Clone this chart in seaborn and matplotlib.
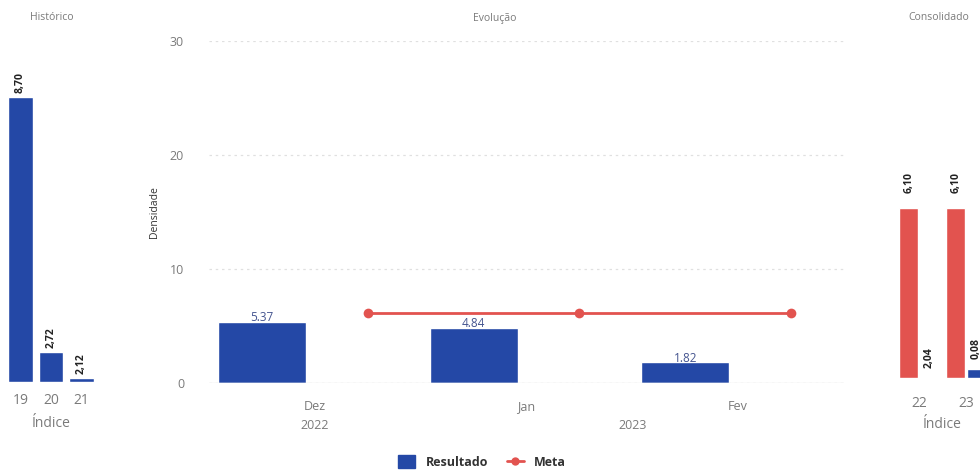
import matplotlib
matplotlib.use("Agg")
import matplotlib.pyplot as plt
import matplotlib.transforms as mtransforms
from matplotlib.lines import Line2D
from matplotlib.patches import Patch
import numpy as np
import pandas as pd
import seaborn as sns

# --- dados ---
# Histórico (altura desenhada e rótulo exibido no painel)
indices_hist = ["19", "20", "21"]
altura_hist = [25.0, 2.63, 0.35]
rotulos_hist = ["8,70", "2,72", "2,12"]

# Evolução
meses = ["Dez", "Jan", "Fev"]
anos = ["2022", "2023"]
resultado = [5.37, 4.84, 1.82]
meta = [6.1, 6.1, 6.1]

# Consolidado
indices_cons = ["22", "23"]
cons_meta = [14.9, 14.9]
cons_resultado = [0.0, 0.8]
rotulos_cons_meta = ["6,10", "6,10"]
rotulos_cons_res = ["2,04", "0,08"]

AZUL = "#2448a6"
VERMELHO = "#e2534f"
CINZA = "#7a7a7a"

sns.set_theme(style="white")
plt.rcParams["font.family"] = ["Open Sans", "DejaVu Sans"]

fig = plt.figure(figsize=(9.8, 4.7), dpi=100)
h = 342 / 470
ax1 = fig.add_axes([5.25 / 980, 1 - 382 / 470, 91.5 / 980, h])
ax2 = fig.add_axes([209 / 980, 1 - 383 / 470, 635 / 980, h])
ax3 = fig.add_axes([895.5 / 980, 1 - 378 / 470, 94 / 980, h])

for ax in (ax1, ax2, ax3):
    ax.set_ylim(0, 30)
    sns.despine(ax=ax, left=True, bottom=True)
    ax.tick_params(axis="both", length=0, colors=CINZA, labelsize=9)

# --- Histórico ---
sns.barplot(x=indices_hist, y=altura_hist, color=AZUL, width=0.79,
            saturation=1, ax=ax1)
ax1.set_yticks([])
ax1.set_xlim(-0.5, 2.5)
ax1.tick_params(axis="x", pad=8, labelsize=10)
ax1.set_xlabel("Índice", color=CINZA, fontsize=10, labelpad=6)
ax1.set_ylabel("")
for i, (v, r) in enumerate(zip(altura_hist, rotulos_hist)):
    ax1.annotate(r, (i, v), xytext=(0, 3), textcoords="offset points",
                 rotation=90, ha="center", va="bottom", fontsize=7.5,
                 fontweight="bold", color="#222222")

# --- Evolução ---
x_mes = np.arange(len(meses))
sns.barplot(x=x_mes, y=resultado, color=AZUL, width=0.416, saturation=1,
            native_scale=True, ax=ax2)
sns.lineplot(x=x_mes + 0.5, y=meta, color=VERMELHO, lw=2, marker="o",
             markersize=7, markeredgewidth=0, ax=ax2)
ax2.set_xlim(-0.25, 2.75)
ax2.set_xticks(x_mes + 0.25)
ax2.set_xticklabels(meses)
ax2.tick_params(axis="x", pad=12)
ax2.set_yticks([0, 10, 20, 30])
ax2.tick_params(axis="y", pad=18)
ax2.yaxis.grid(True, color="#e0e0e0", linestyle=(0, (2, 3)), lw=0.9)
ax2.axhline(0, color="#e6e6e6", lw=1)
ax2.set_ylabel("Densidade", fontsize=7.5, color="#333333", labelpad=7)
ax2.set_xlabel("")
for i, v in enumerate(resultado):
    ax2.text(i, v + 0.35, f"{v:.2f}", ha="center", va="center",
             fontsize=8.5, color="#44548f")
trans = mtransforms.blended_transform_factory(ax2.transData, ax2.transAxes)
ax2.text(0.25, -0.125, anos[0], transform=trans, ha="center", va="center",
         fontsize=9, color=CINZA)
ax2.text(1.75, -0.125, anos[1], transform=trans, ha="center", va="center",
         fontsize=9, color=CINZA)

# --- Consolidado ---
df_cons = pd.DataFrame({
    "indice": indices_cons * 2,
    "valor": cons_meta + cons_resultado,
    "serie": ["Meta"] * len(indices_cons) + ["Resultado"] * len(indices_cons),
})
sns.barplot(data=df_cons, x="indice", y="valor", hue="serie",
            palette={"Meta": VERMELHO, "Resultado": AZUL}, width=0.88,
            gap=0.1, saturation=1, legend=False, ax=ax3)
ax3.set_xlim(-0.5, 1.5)
ax3.set_yticks([])
ax3.tick_params(axis="x", pad=13, labelsize=10)
ax3.set_xlabel("Índice", color=CINZA, fontsize=10, labelpad=4)
ax3.set_ylabel("")
for i in range(len(indices_cons)):
    ax3.annotate(rotulos_cons_meta[i], (i - 0.22, cons_meta[i]),
                 xytext=(0, 11), textcoords="offset points", rotation=90,
                 ha="center", va="bottom", fontsize=7.5, fontweight="bold",
                 color="#222222")
    ax3.annotate(rotulos_cons_res[i], (i + 0.22, cons_resultado[i]),
                 xytext=(0, 7), textcoords="offset points", rotation=90,
                 ha="center", va="bottom", fontsize=7.5, fontweight="bold",
                 color="#222222")

# --- títulos ---
fig.text(52 / 980, 1 - 18 / 470, "Histórico", ha="center", va="center",
         fontsize=7.5, color=CINZA)
fig.text(495 / 980, 1 - 18 / 470, "Evolução", ha="center", va="center",
         fontsize=7.5, color=CINZA)
fig.text(908 / 980, 1 - 18 / 470, "Consolidado", ha="left", va="center",
         fontsize=7.5, color=CINZA)

# --- legenda ---
handles = [
    Patch(facecolor=AZUL, edgecolor=AZUL, label="Resultado"),
    Line2D([0], [0], color=VERMELHO, lw=2, marker="o", markersize=6,
           markeredgewidth=0, label="Meta"),
]
fig.legend(handles=handles, loc="center", bbox_to_anchor=(482 / 980, 1 - 462 / 470),
           ncol=2, frameon=False, handlelength=1.4, handleheight=1.2,
           columnspacing=1.5, prop={"size": 9, "weight": "bold"},
           labelcolor="#333333")

fig.savefig("out.png", dpi=100)
